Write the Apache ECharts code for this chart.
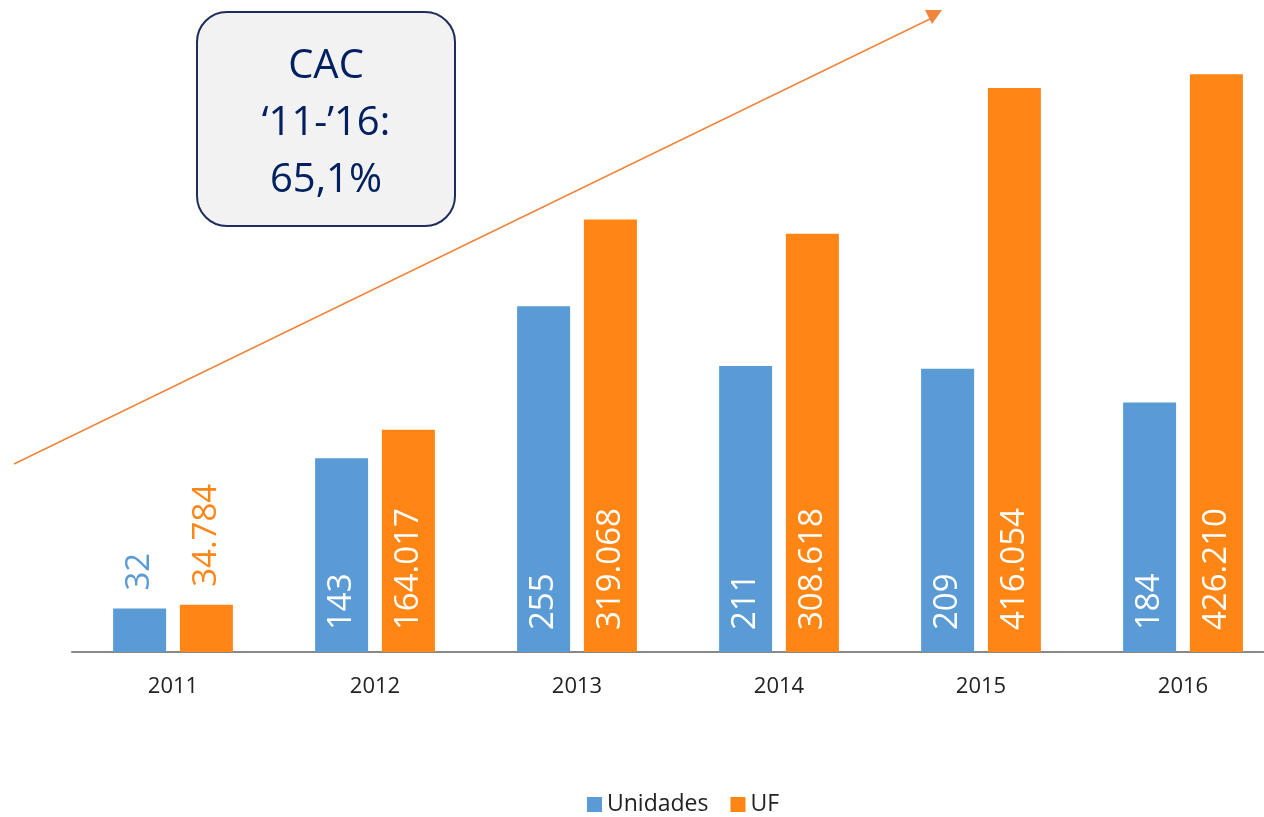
<!DOCTYPE html>
<html>
<head>
<meta charset="utf-8">
<script src="https://cdn.jsdelivr.net/npm/echarts@6/dist/echarts.min.js"></script>
<style>
  html, body { margin: 0; padding: 0; background: #fff; }
  #main { width: 1264px; height: 817px; }
</style>
</head>
<body>
<div id="main"></div>
<script>
// datos
var years = ["2011", "2012", "2013", "2014", "2015", "2016"];
var unidades = [32, 143, 255, 211, 209, 184];
var uf = [34784, 164017, 319068, 308618, 416054, 426210];
var boxLines = ["CAC", "\u201811-\u201916:", "65,1%"];

var BLUE = "#5B9BD5";
var ORANGE = "#FF8514";
var FONT = "Open Sans";

function fmt(v) {
  return String(v).replace(/\B(?=(\d{3})+(?!\d))/g, ".");
}

// el primer año lleva la etiqueta encima de la barra
function makeData(arr, color) {
  return arr.map(function (v, i) {
    if (i === 0) {
      return {
        value: v,
        label: { position: "top", color: color, distance: 18 }
      };
    }
    return v;
  });
}

var labelBase = {
  show: true,
  position: "insideBottom",
  rotate: 90,
  align: "left",
  verticalAlign: "middle",
  distance: 22,
  color: "#fff",
  fontSize: 33,
  fontFamily: FONT,
  formatter: function (p) { return fmt(p.value); }
};

var myChart = echarts.init(document.getElementById("main"));
myChart.setOption({
  backgroundColor: "#fff",
  animation: false,
  textStyle: { fontFamily: FONT },
  // el eje sigue más allá del borde derecho
  grid: { left: 72, right: -20, top: 42, bottom: 165, outerBoundsMode: "none" },
  legend: {
    bottom: -4,
    left: 582,
    itemWidth: 15,
    itemHeight: 15,
    itemGap: 22,
    icon: "rect",
    textStyle: { fontSize: 23, color: "#222", fontFamily: FONT },
    data: ["Unidades", "UF"]
  },
  xAxis: {
    type: "category",
    data: years,
    axisLine: { lineStyle: { color: "#888", width: 2 } },
    axisTick: { show: false },
    axisLabel: { fontSize: 22, color: "#222", margin: 24, fontFamily: FONT }
  },
  yAxis: [
    { type: "value", min: 0, max: 450, show: false, splitLine: { show: false } },
    { type: "value", min: 0, max: 450000, show: false, splitLine: { show: false } }
  ],
  series: [
    {
      name: "Unidades",
      type: "bar",
      yAxisIndex: 0,
      barWidth: 53,
      barGap: "26%",
      itemStyle: { color: BLUE },
      label: labelBase,
      data: makeData(unidades, BLUE)
    },
    {
      name: "UF",
      type: "bar",
      yAxisIndex: 1,
      barWidth: 53,
      itemStyle: { color: ORANGE },
      label: labelBase,
      data: makeData(uf, ORANGE)
    }
  ],
  graphic: [
    {
      type: "line",
      shape: { x1: 14, y1: 464, x2: 932, y2: 18 },
      style: { stroke: "#F0843A", lineWidth: 1.5 },
      z: 10
    },
    {
      type: "polygon",
      shape: { points: [[925, 10], [942, 10], [932, 24]] },
      style: { fill: "#F0843A" },
      z: 10
    },
    {
      type: "rect",
      shape: { x: 197, y: 12, width: 258, height: 214, r: 30 },
      style: { fill: "#F2F2F2", stroke: "#1F2C5C", lineWidth: 2 },
      z: 11
    },
    {
      type: "text",
      z: 12,
      style: {
        x: 326,
        y: 38,
        text: boxLines.join("\n"),
        align: "center",
        verticalAlign: "top",
        fill: "#002060",
        font: "40px 'Open Sans'",
        lineHeight: 57
      }
    }
  ]
});
</script>
</body>
</html>
